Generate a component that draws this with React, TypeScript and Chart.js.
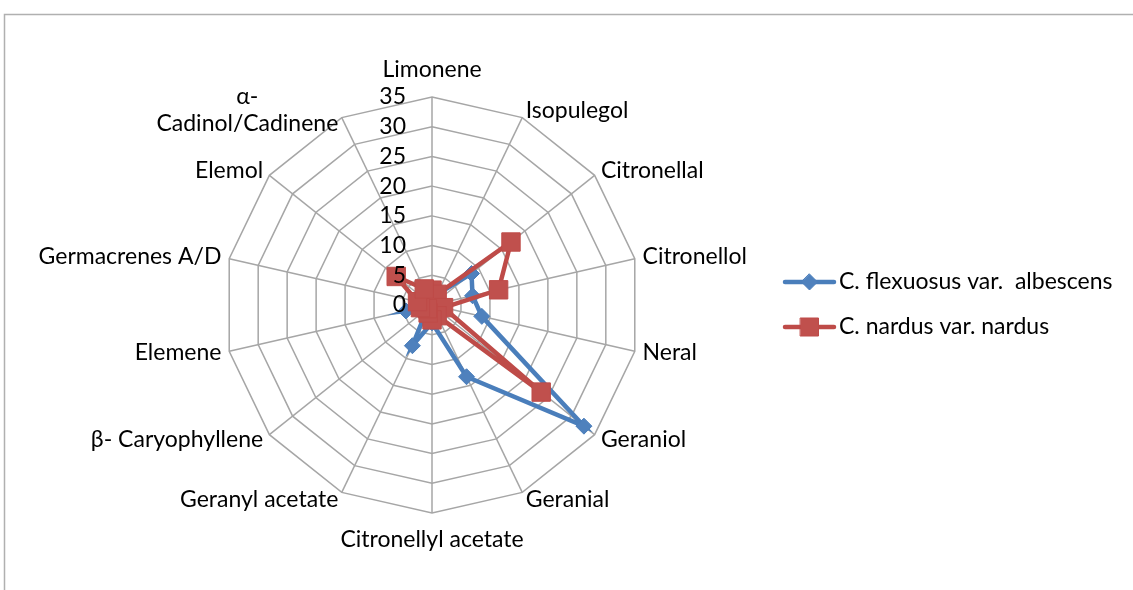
import React, { useEffect, useRef } from 'react';
import { Chart, registerables } from 'chart.js';

Chart.register(...registerables);

const categories: (string | string[])[] = [
  'Limonene',
  'Isopulegol',
  'Citronellal',
  'Citronellol',
  'Neral',
  'Geraniol',
  'Geranial',
  'Citronellyl acetate',
  'Geranyl acetate',
  'β- Caryophyllene',
  'Elemene',
  'Germacrenes A/D',
  'Elemol',
  ['α-', 'Cadinol/Cadinene'],
];

const flexuosusValues = [2.5, 2, 8.5, 7, 8.6, 32.7, 13.4, 3, 7.6, 1, 4.5, 1, 1, 1];
const nardusValues = [2.5, 2, 17, 11.5, 2, 23.5, 2, 2.5, 1.5, 1, 2, 2.5, 7.7, 3];

const seriesNames = ['C. flexuosus var.  albescens', 'C. nardus var. nardus'];
const tickValues = [0, 5, 10, 15, 20, 25, 30, 35];

const BLUE = '#4a7ebb';
const BLUE_FILL = '#4f81bd';
const RED = '#be4b48';
const RED_FILL = '#c0504d';
const GRID = '#a6a6a6';
const FONT = '23px Lato';

function drawMarker(ctx: CanvasRenderingContext2D, style: string, x: number, y: number, fill: string, stroke: string) {
  ctx.save();
  ctx.fillStyle = fill;
  ctx.strokeStyle = stroke;
  ctx.lineWidth = 1;
  ctx.beginPath();
  if (style === 'diamond') {
    const r = 8;
    ctx.moveTo(x, y - r);
    ctx.lineTo(x + r, y);
    ctx.lineTo(x, y + r);
    ctx.lineTo(x - r, y);
    ctx.closePath();
  } else {
    const h = 9;
    ctx.rect(x - h, y - h, 2 * h, 2 * h);
  }
  ctx.fill();
  ctx.stroke();
  ctx.restore();
}

const excelPlugin = {
  id: 'excelDecor',
  beforeDraw(chart: any) {
    const ctx: CanvasRenderingContext2D = chart.ctx;
    ctx.save();
    ctx.fillStyle = '#ffffff';
    ctx.fillRect(0, 0, chart.width, chart.height);
    ctx.strokeStyle = '#b0b0b0';
    ctx.lineWidth = 1.5;
    ctx.beginPath();
    ctx.moveTo(4.5, chart.height);
    ctx.lineTo(4.5, 14.5);
    ctx.lineTo(chart.width, 14.5);
    ctx.stroke();
    ctx.restore();
  },
  afterDraw(chart: any) {
    const s = chart.scales.r;
    const ctx: CanvasRenderingContext2D = chart.ctx;
    ctx.save();
    ctx.font = FONT;
    ctx.fillStyle = '#000000';
    ctx.textBaseline = 'middle';

    // tick labels
    ctx.textAlign = 'right';
    s.ticks.forEach((t: any) => {
      const d = s.getDistanceFromCenterForValue(t.value);
      ctx.fillText(String(t.value), s.xCenter - 26, s.yCenter - d);
    });

    // point labels
    const labels = chart.data.labels;
    for (let i = 0; i < labels.length; i++) {
      const p = s.getPointPosition(i, s.drawingArea + 8);
      const a = s.getIndexAngle(i);
      const sin = Math.sin(a);
      const cos = Math.cos(a);
      const lines: string[] = ([] as string[]).concat(labels[i]);
      const lh = 27;
      let y = p.y;
      if (Math.abs(sin) < 0.01) {
        y += cos > 0 ? -19 : 19;
        ctx.textAlign = 'center';
        lines.forEach((ln, k) => ctx.fillText(ln, p.x, y + (k - (lines.length - 1) / 2) * lh));
      } else {
        const maxW = Math.max(...lines.map((ln) => ctx.measureText(ln).width));
        const cx = sin > 0 ? p.x + maxW / 2 : p.x - maxW / 2;
        if (lines.length === 1) {
          ctx.textAlign = sin > 0 ? 'left' : 'right';
          ctx.fillText(lines[0], p.x, y);
        } else {
          ctx.textAlign = 'center';
          lines.forEach((ln, k) => ctx.fillText(ln, cx, y + (k - (lines.length - 1) / 2) * lh));
        }
      }
    }

    // legend
    const legendItems = [
      { name: seriesNames[0], color: BLUE, fill: BLUE_FILL, style: 'diamond', y: 282 },
      { name: seriesNames[1], color: RED, fill: RED_FILL, style: 'square', y: 327 },
    ];
    legendItems.forEach((it) => {
      ctx.strokeStyle = it.color;
      ctx.lineWidth = 4.5;
      ctx.lineCap = 'round';
      ctx.beginPath();
      ctx.moveTo(785, it.y);
      ctx.lineTo(834, it.y);
      ctx.stroke();
      drawMarker(ctx, it.style, 809.5, it.y, it.fill, it.color);
      ctx.fillStyle = '#000000';
      ctx.textAlign = 'left';
      ctx.fillText(it.name, 839, it.y);
    });
    ctx.restore();
  },
};

export default function App() {
  const ref = useRef<HTMLCanvasElement | null>(null);

  useEffect(() => {
    if (!ref.current) return;
    const chart = new Chart(ref.current, {
      type: 'radar',
      data: {
        labels: categories as any,
        datasets: [
          {
            label: seriesNames[0],
            data: flexuosusValues,
            borderColor: BLUE,
            backgroundColor: BLUE_FILL,
            pointBackgroundColor: BLUE_FILL,
            pointBorderColor: BLUE,
            pointStyle: 'rectRot',
            pointRadius: 8,
            pointBorderWidth: 1,
            borderWidth: 4.5,
            fill: false,
            tension: 0,
            order: 2,
          },
          {
            label: seriesNames[1],
            data: nardusValues,
            borderColor: RED,
            backgroundColor: RED_FILL,
            pointBackgroundColor: RED_FILL,
            pointBorderColor: RED,
            pointStyle: 'rect',
            pointRadius: 13,
            pointBorderWidth: 1,
            borderWidth: 4.5,
            fill: false,
            tension: 0,
            order: 1,
          },
        ],
      },
      options: {
        responsive: false,
        animation: false,
        layout: { padding: { top: 97, bottom: 77, left: 224, right: 493 } },
        plugins: {
          legend: { display: false },
          tooltip: { enabled: false },
        },
        scales: {
          r: {
            min: 0,
            max: 35,
            afterBuildTicks: (axis: any) => {
              axis.ticks = tickValues.map((v) => ({ value: v }));
            },
            ticks: { display: false, stepSize: 5 },
            pointLabels: { display: false },
            grid: { color: GRID, lineWidth: 1.5 },
            angleLines: { color: GRID, lineWidth: 1.5 },
          },
        },
      },
      plugins: [excelPlugin],
    });
    return () => chart.destroy();
  }, []);

  return (
    <div style={{ position: 'absolute', left: 0, top: 0, width: 1133, height: 590 }}>
      <canvas ref={ref} width={1133} height={590} style={{ display: 'block' }} />
    </div>
  );
}
